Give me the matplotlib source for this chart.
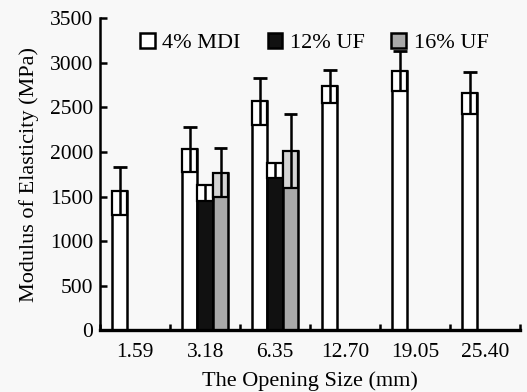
import numpy as np
import matplotlib
matplotlib.use("Agg")
import matplotlib.pyplot as plt

categories = ["1.59", "3.18", "6.35", "12.70", "19.05", "25.40"]
mdi4 = [1560, 2030, 2570, 2740, 2910, 2660]
mdi4_err = [270, 250, 265, 185, 225, 235]
uf12 = [np.nan, 1630, 1880, np.nan, np.nan, np.nan]
uf12_err = [np.nan, 180, 175, np.nan, np.nan, np.nan]
uf16 = [np.nan, 1765, 2010, np.nan, np.nan, np.nan]
uf16_err = [np.nan, 275, 420, np.nan, np.nan, np.nan]
series_names = ["4% MDI", "12% UF", "16% UF"]

plt.rcParams['font.family'] = ['Liberation Serif', 'DejaVu Serif']
bg = '#f8f8f8'
fig = plt.figure(figsize=(5.27, 3.92), dpi=100, facecolor=bg)
ax = fig.add_axes([0.19, 0.158, 0.797, 0.795], facecolor=bg)

x = np.arange(len(categories))
w = 0.22
fills = ['white', '#111111', '#a9a9a9']
boxfills = ['white', 'white', '#d4d4d4']
data = [(mdi4, mdi4_err, True), (uf12, uf12_err, False), (uf16, uf16_err, True)]
for i, ((vals, errs, upper), fc, bfc, name) in enumerate(zip(data, fills, boxfills, series_names)):
    vals = np.array(vals, float); errs = np.array(errs, float)
    pos = x + (i - 1) * w
    ok = ~np.isnan(vals)
    ax.bar(pos, vals, w, color=fc, edgecolor='black', linewidth=1.8, zorder=2, label=name)
    ax.bar(pos[ok], errs[ok], w, bottom=vals[ok] - errs[ok], color=bfc, edgecolor='black',
           linewidth=1.6, zorder=3)
    top = vals + errs if upper else vals
    ax.vlines(pos[ok], (vals - errs)[ok], top[ok], colors='black', linewidth=1.8, zorder=7)
    if upper:
        ax.hlines(top[ok], pos[ok] - w * 0.45, pos[ok] + w * 0.45, colors='black',
                  linewidth=2.0, zorder=7)

ax.set_xlim(-0.5, len(categories) - 0.5)
ax.set_ylim(0, 3500)
ax.set_yticks(np.arange(0, 3501, 500))
ax.set_xticks(x)
ax.set_xticklabels(categories)
ax.set_xticks(np.arange(-0.5, len(categories)), minor=True)
ax.tick_params(axis='x', which='major', length=0, labelsize=15.5, pad=9)
ax.tick_params(axis='x', which='minor', direction='in', length=4, width=1.8)
ax.tick_params(axis='y', direction='in', length=5, width=1.8, labelsize=15.5, pad=5)
for s in ['top', 'right']:
    ax.spines[s].set_visible(False)
ax.spines['left'].set_linewidth(1.8)
ax.spines['bottom'].set_linewidth(2.4)
ax.set_xlabel("The Opening Size (mm)", fontsize=16, labelpad=7)
ax.set_ylabel("Modulus of Elasticity (MPa)", fontsize=16, labelpad=8)
leg = ax.legend(loc='upper center', bbox_to_anchor=(0.51, 1.0), ncol=3, frameon=False,
                fontsize=16, handlelength=0.65, handleheight=0.65, handletextpad=0.35,
                columnspacing=1.2, borderaxespad=0.25)
fig.savefig("out.png", dpi=100, facecolor=bg)
